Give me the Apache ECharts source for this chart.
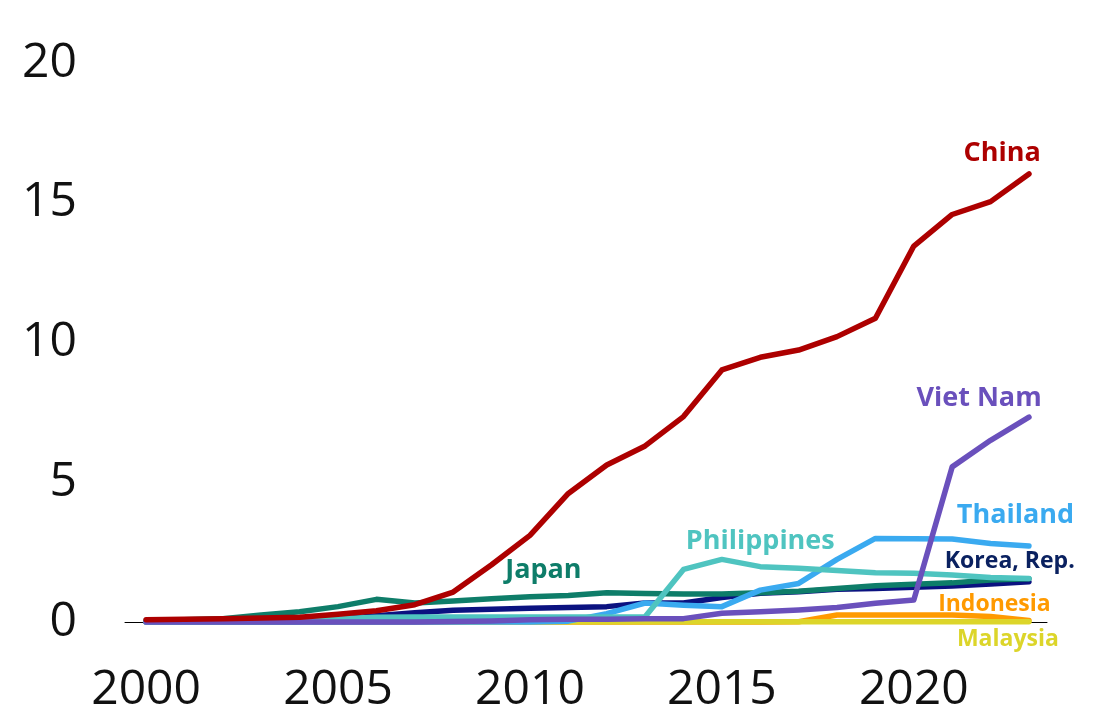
<!DOCTYPE html>
<html><head><meta charset="utf-8">
<script src="https://cdn.jsdelivr.net/npm/echarts@6/dist/echarts.min.js"></script>
<style>html,body{margin:0;padding:0;background:#fff}#c{width:1104px;height:711px}</style>
</head><body><div id="c"></div>
<script>
const years = [2000,2001,2002,2003,2004,2005,2006,2007,2008,2009,2010,2011,2012,2013,2014,2015,2016,2017,2018,2019,2020,2021,2022,2023];
const xTickLabels = [2000,2005,2010,2015,2020];
const yTicks = [0,5,10,15,20];
const malaysia   = [0.01,0.01,0.01,0.01,0.01,0.01,0.01,0.01,0.01,0.01,0.01,0.01,0.01,0.01,0.01,0.01,0.01,0.01,0.01,0.01,0.01,0.01,0.01,0.01];
const indonesia  = [0,0,0,0,0,0,0,0,0,0,0,0,0,0,0,0,0,0.01,0.25,0.25,0.25,0.25,0.2,0.05];
const korea      = [0,0,0,0,0.02,0.1,0.22,0.33,0.42,0.46,0.49,0.52,0.55,0.68,0.68,0.88,1.03,1.08,1.17,1.2,1.24,1.29,1.36,1.44];
const japan      = [0.05,0.08,0.12,0.25,0.37,0.55,0.81,0.68,0.75,0.83,0.9,0.95,1.05,1.02,1.0,1.0,1.05,1.1,1.2,1.3,1.35,1.4,1.5,1.55];
const thailand   = [0,0,0,0,0,0,0,0,0,0,0,0.03,0.3,0.68,0.6,0.55,1.14,1.38,2.24,2.99,2.98,2.97,2.81,2.72];
const philippines= [0,0,0,0,0.03,0.12,0.17,0.18,0.18,0.18,0.18,0.18,0.18,0.19,1.88,2.24,1.98,1.92,1.84,1.76,1.74,1.68,1.59,1.56];
const vietnam    = [0,0,0,0,0,0,0,0,0.02,0.04,0.08,0.1,0.1,0.12,0.12,0.31,0.37,0.43,0.52,0.67,0.79,5.55,6.5,7.33];
const china      = [0.08,0.1,0.12,0.14,0.17,0.28,0.4,0.62,1.07,2.05,3.1,4.6,5.62,6.3,7.35,9.02,9.47,9.73,10.21,10.87,13.45,14.58,15.04,16.03];

const seriesNames = ['Indonesia','Malaysia','Korea, Rep.','Japan','Thailand','Philippines','Viet Nam','China'];
const seriesData = [indonesia,malaysia,korea,japan,thailand,philippines,vietnam,china];
const seriesColors = ['#FF9A00','#DCD52A','#0B1280','#0E7D69','#3AAAF0','#4FC4C0','#6A50BC','#AD0000'];
const labelColors  = ['#FF9A00','#DCD52A','#0A2160','#0E7D69','#3AAAF0','#4FC4C0','#6A50BC','#AD0000'];
// label anchor positions in data units [year, value]
const labelAnchors = [[2022.1,0.64],[2022.45,-0.64],[2022.5,2.18],[2010.35,1.86],[2022.65,3.83],[2016.0,2.9],[2021.7,8.0],[2022.3,16.78]];
const labelSizes = [23,23,23,27,27,27,27,27];

const chart = echarts.init(document.getElementById('c'), null, {renderer:'canvas'});
const FONT = '"Open Sans", "Noto Sans", sans-serif';
chart.setOption({
  animation:false,
  backgroundColor:'#fff',
  grid:{left:125,right:57,top:63,bottom:89,containLabel:false,outerBoundsMode:'none'},
  xAxis:{type:'value',min:1999.45,max:2023.47,
    axisLine:{show:true,lineStyle:{color:'#000',width:1}},
    axisTick:{show:false},splitLine:{show:false},
    axisLabel:{customValues:xTickLabels,fontSize:48,color:'#111',fontFamily:FONT,margin:44,formatter:v=>String(v)}},
  yAxis:{type:'value',min:0,max:20,interval:5,
    axisLine:{show:false},axisTick:{show:false},splitLine:{show:false},
    axisLabel:{fontSize:48,color:'#111',fontFamily:FONT,margin:48}},
  series: seriesNames.map((n,i)=>({
    name:n,type:'line',showSymbol:false,symbol:'none',
    data: years.map((y,j)=>[y,seriesData[i][j]]),
    lineStyle:{width:5.5,color:seriesColors[i],cap:'round',join:'round'},
    z:2+i, clip:false
  }))
});
const texts = seriesNames.map((n,i)=>{
  const p = chart.convertToPixel({gridIndex:0}, labelAnchors[i]);
  return {type:'text',x:p[0],y:p[1],style:{text:n,fill:labelColors[i],font:'700 '+labelSizes[i]+'px '+FONT,textAlign:'center',textVerticalAlign:'middle'},z:100};
});
chart.setOption({graphic:texts});
</script></body></html>
